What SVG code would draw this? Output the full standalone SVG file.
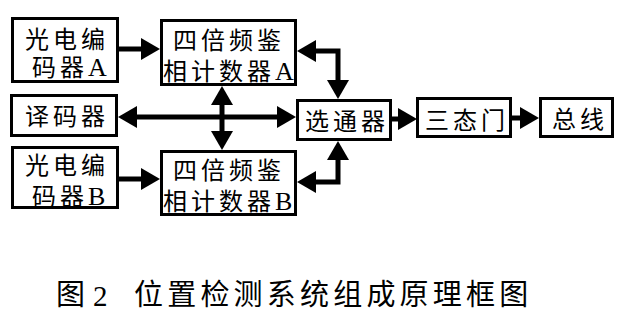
<svg xmlns="http://www.w3.org/2000/svg" width="627" height="321" viewBox="0 0 627 321">
<style>
.box{fill:#fff;stroke:#000;stroke-width:3}
.t{font-family:"Liberation Serif","Noto Sans CJK SC",serif;font-size:24px;letter-spacing:4px;fill:#000}
.l{font-size:26px}
.cap{font-family:"Liberation Serif","Noto Sans CJK SC",serif;font-size:29px;fill:#000}
.c{fill:none;stroke:#000;stroke-width:5;stroke-linejoin:miter}
</style>
<defs>
<marker id="ah" viewBox="0 0 19 22" refX="0" refY="11" markerWidth="19" markerHeight="22" markerUnits="userSpaceOnUse" orient="auto-start-reverse">
<path d="M0,0 L19,11 L0,22 Z" fill="#000"/>
</marker>
</defs>
<rect width="627" height="321" fill="#fff"/>
<g id="connectors">
<line class="c" x1="117" y1="49" x2="141" y2="49" marker-end="url(#ah)"/>
<line class="c" x1="117" y1="179" x2="141" y2="179" marker-end="url(#ah)"/>
<line class="c" x1="137" y1="117" x2="277" y2="117" marker-start="url(#ah)" marker-end="url(#ah)"/>
<line class="c" x1="222" y1="105" x2="222" y2="131" marker-start="url(#ah)" marker-end="url(#ah)"/>
<path class="c" d="M338,80 V51 H316" marker-start="url(#ah)" marker-end="url(#ah)"/>
<path class="c" d="M338,160 V182 H316" marker-start="url(#ah)" marker-end="url(#ah)"/>
<line class="c" x1="391" y1="119" x2="398" y2="119" marker-end="url(#ah)"/>
<line class="c" x1="511" y1="118" x2="520" y2="118" marker-end="url(#ah)"/>
</g>
<g id="encA">
<rect class="box" x="12.5" y="18.5" width="105" height="63"/>
<text class="t" x="25" y="48">光电编</text>
<text class="t" x="32" y="76" letter-spacing="3">码器<tspan class="l">A</tspan></text>
</g>
<g id="cntA">
<rect class="box" x="161.5" y="20.5" width="134" height="64"/>
<text class="t" x="173" y="49">四倍频鉴</text>
<text class="t" x="163" y="80">相计数器<tspan class="l">A</tspan></text>
</g>
<g id="dec">
<rect class="box" x="11.5" y="95.5" width="105" height="40"/>
<text class="t" x="25" y="125" letter-spacing="5">译码器</text>
</g>
<g id="encB">
<rect class="box" x="12.5" y="147.5" width="105" height="60"/>
<text class="t" x="25" y="174">光电编</text>
<text class="t" x="32" y="205" letter-spacing="3">码器<tspan class="l">B</tspan></text>
</g>
<g id="cntB">
<rect class="box" x="161.5" y="151.5" width="134" height="63"/>
<text class="t" x="173" y="179">四倍频鉴</text>
<text class="t" x="163" y="210">相计数器<tspan class="l">B</tspan></text>
</g>
<g id="sel">
<rect class="box" x="297.5" y="100.5" width="93" height="39"/>
<text class="t" x="305" y="130">选通器</text>
</g>
<g id="tri">
<rect class="box" x="417.5" y="98.5" width="93" height="38"/>
<text class="t" x="425" y="129">三态门</text>
</g>
<g id="bus">
<rect class="box" x="540.5" y="98.5" width="72" height="38"/>
<text class="t" x="552" y="128">总线</text>
</g>
<g id="caption">
<text class="cap" x="56" y="305">图</text>
<text class="cap" x="93" y="306" font-size="31">2</text>
<text class="cap" x="134" y="305" letter-spacing="4.2">位置检测系统组成原理框图</text>
</g>
</svg>
